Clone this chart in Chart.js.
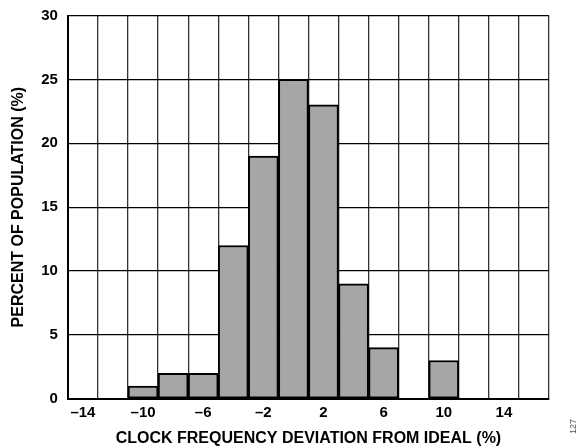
<!DOCTYPE html>
<html>
<head>
<meta charset="utf-8">
<script src="https://cdn.jsdelivr.net/npm/chart.js@4"></script>
<style>
  body { margin: 0; background: #fff; overflow: hidden; }
  #wrap { position: relative; width: 587px; height: 448px; overflow: hidden; }
  #histChart { position: absolute; left: 0; top: -2px; }
  #code { position: absolute; left: 568px; top: 434px; font: 9px "Liberation Sans", Arial, sans-serif; color: #555;
          transform: rotate(-90deg); transform-origin: left top; }
</style>
</head>
<body>
<div id="wrap">
  <canvas id="histChart" width="587" height="450"></canvas>
  <div id="code">127</div>
</div>
<script>
// bins, 2% wide, centred on the labels
const bins = [-14, -12, -10, -8, -6, -4, -2, 0, 2, 4, 6, 8, 10, 12, 14, 16];
const shownLabels = [-14, -10, -6, -2, 2, 6, 10, 14];
const population = [0, 0, 1, 2, 2, 12, 19, 25, 23, 9, 4, 0, 3, 0, 0, 0];
const yTicks = [0, 5, 10, 15, 20, 25, 30];

function fmt(v) {
    return v < 0 ? '\u2013' + Math.abs(v) : String(v);
}

const tickFont = { family: 'Liberation Sans', size: 15, weight: 'bold' };
const yTickFont = { family: 'Liberation Sans', size: 15, weight: 'bold', lineHeight: 1 };
const titleFont = { family: 'Liberation Sans', size: 16, weight: 'bold' };

const ctx = document.getElementById('histChart');
const histChart = new Chart(ctx, {
    type: 'bar',
    data: {
        labels: bins.map(fmt),
        datasets: [{
            data: population,
            backgroundColor: '#a6a6a6',
            borderColor: '#000',
            borderWidth: 2,
            borderSkipped: false,
            barPercentage: 1,
            categoryPercentage: 1
        }]
    },
    options: {
        responsive: false,
        animation: false,
        layout: { padding: { top: 0, right: 38, left: 9, bottom: 0 } },
        plugins: {
            legend: { display: false },
            tooltip: { enabled: false }
        },
        scales: {
            x: {
                grid: { color: '#333', lineWidth: 1.3, drawTicks: false, offset: true },
                border: { color: '#000', width: 2 },
                ticks: {
                    color: '#000',
                    font: tickFont,
                    padding: 5,
                    autoSkip: false,
                    maxRotation: 0,
                    callback: function(val, i) {
                        return shownLabels.includes(bins[i]) ? fmt(bins[i]) : '';
                    }
                },
                title: {
                    display: true,
                    text: 'CLOCK FREQUENCY DEVIATION FROM IDEAL (%)',
                    color: '#000',
                    font: titleFont,
                    padding: { top: 2, bottom: 0 }
                }
            },
            y: {
                min: 0,
                max: 30,
                afterBuildTicks: function(axis) {
                    axis.ticks = yTicks.map(v => ({ value: v }));
                },
                grid: { color: '#000', lineWidth: 1.3, drawTicks: false },
                border: { color: '#000', width: 2 },
                ticks: { color: '#000', font: yTickFont, padding: 10 },
                title: {
                    display: true,
                    text: 'PERCENT OF POPULATION (%)',
                    color: '#000',
                    font: titleFont,
                    padding: { top: 0, bottom: 3 }
                }
            }
        }
    }
});
</script>
</body>
</html>
